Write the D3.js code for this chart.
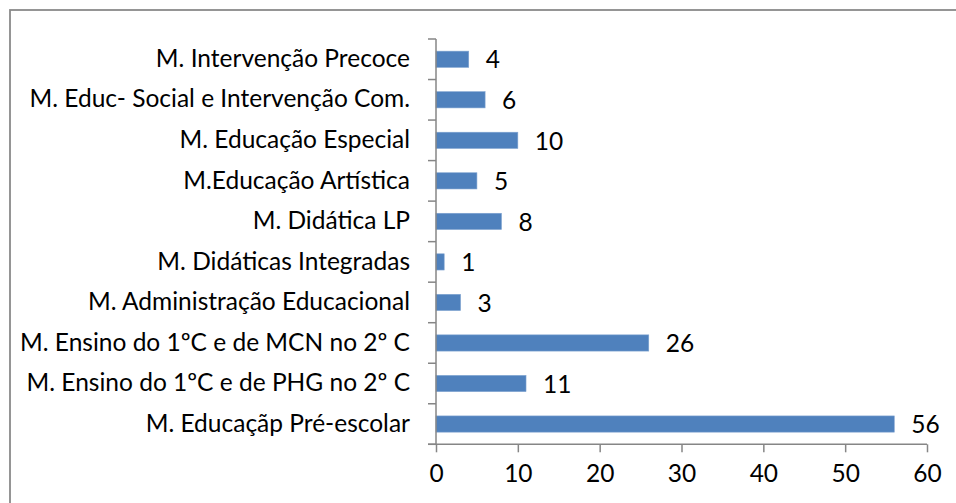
<!DOCTYPE html>
<html><head><meta charset="utf-8">
<script src="https://cdn.jsdelivr.net/npm/d3@7"></script>
<style>body{margin:0;background:#fff}svg{display:block}</style>
</head><body>
<script>
const categories = [
  "M. Intervenção Precoce",
  "M. Educ- Social e Intervenção Com.",
  "M. Educação Especial",
  "M.Educação Artística",
  "M. Didática LP",
  "M. Didáticas Integradas",
  "M. Administração Educacional",
  "M. Ensino do 1ºC e de MCN no 2º C",
  "M. Ensino do 1ºC e de PHG no 2º C",
  "M. Educaçãp Pré-escolar"
];
const values = [4, 6, 10, 5, 8, 1, 3, 26, 11, 56];
const xTicks = [0, 10, 20, 30, 40, 50, 60];

const W = 956, H = 503;
const svg = d3.select("body").append("svg").attr("width", W).attr("height", H);
const font = "Lato, 'Open Sans', sans-serif";
const fs = 24.5;

svg.append("rect").attr("x", 10).attr("y", 10).attr("width", 960).attr("height", 520)
  .attr("fill", "none").attr("stroke", "#8a8a8a").attr("stroke-width", 1.8);

const x = d3.scaleLinear().domain([0, 60]).range([436, 927]);
const y = d3.scaleBand().domain(categories).range([39, 444.3]).paddingInner(0.6).paddingOuter(0.3);

// bars
svg.append("g").selectAll("rect").data(values).join("rect")
  .attr("x", x(0)).attr("y", (d, i) => y(categories[i]))
  .attr("width", d => x(d) - x(0)).attr("height", y.bandwidth())
  .attr("fill", "#4F81BD").attr("stroke", "#7fa3d0").attr("stroke-width", 0.6);

// value labels
svg.append("g").selectAll("text").data(values).join("text")
  .attr("x", d => x(d) + 17).attr("y", (d, i) => y(categories[i]) + y.bandwidth() / 2 + 3)
  .attr("dominant-baseline", "middle")
  .attr("font-family", font).attr("font-size", fs).attr("fill", "#000")
  .text(d => d);

// y axis
const yAxisG = svg.append("g");
yAxisG.append("line").attr("x1", 436).attr("x2", 436).attr("y1", 39).attr("y2", 444.3)
  .attr("stroke", "#868686").attr("stroke-width", 1.5);
const bounds = d3.range(categories.length + 1).map(i => 39 + i * (405.3 / categories.length));
yAxisG.selectAll("line.t").data(bounds).join("line").attr("class", "t")
  .attr("x1", 428).attr("x2", 436).attr("y1", d => d).attr("y2", d => d)
  .attr("stroke", "#868686").attr("stroke-width", 1.5);
yAxisG.selectAll("text").data(categories).join("text")
  .attr("x", 410).attr("y", d => y(d) + y.bandwidth() / 2 + 1.5)
  .attr("text-anchor", "end").attr("dominant-baseline", "middle")
  .attr("font-family", font).attr("font-size", fs).attr("fill", "#000")
  .text(d => d);

// x axis
const xAxis = d3.axisBottom(x).tickValues(xTicks).tickSize(8).tickPadding(12).tickSizeOuter(0);
const xg = svg.append("g").attr("transform", "translate(0,444.3)").call(xAxis);
xg.select(".domain").attr("stroke", "#868686").attr("stroke-width", 1.5).attr("d", `M428,0H${x(60)}`);
xg.selectAll(".tick line").attr("stroke", "#868686").attr("stroke-width", 1.5);
xg.selectAll(".tick text").attr("font-family", font).attr("font-size", fs).attr("fill", "#000");
</script>
</body></html>
